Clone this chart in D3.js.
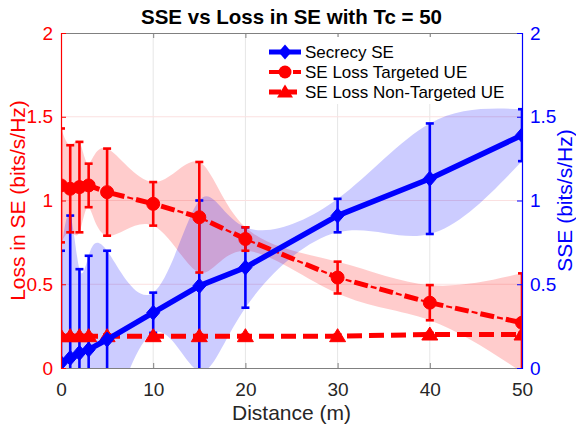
<!DOCTYPE html>
<html>
<head>
<meta charset="utf-8">
<script src="https://cdn.jsdelivr.net/npm/d3@7"></script>
<style>
  html, body { margin: 0; padding: 0; background: #fff; }
  svg { display: block; font-family: "Liberation Sans", Arial, Helvetica, sans-serif; }
</style>
</head>
<body>
<svg id="chart" width="576" height="424"></svg>
<script>
// Distances (m) at which both metrics were evaluated
const distances = [0, 1, 2, 3, 5, 10, 15, 20, 30, 40, 50];

// Secrecy SE (right axis) — mean and standard deviation
const sseMean = [0.03, 0.06, 0.09, 0.11, 0.17, 0.33, 0.49, 0.60, 0.91, 1.13, 1.39];
const sseErr  = [0.67, 0.85, 0.50, 0.56, 0.53, 0.12, 0.51, 0.24, 0.10, 0.33, 0.155];

// SE loss of the targeted UE (left axis)
const lossTargetedMean = [1.09, 1.07, 1.08, 1.09, 1.05, 0.98, 0.90, 0.77, 0.54, 0.39, 0.27];
const lossTargetedErr  = [0.34, 0.26, 0.27, 0.13, 0.26, 0.13, 0.33, 0.07, 0.095, 0.105, 0.295];

// SE loss of the non-targeted UE (left axis)
const lossNonTargetedMean = [0.19, 0.19, 0.19, 0.19, 0.19, 0.19, 0.19, 0.19, 0.19, 0.20, 0.20];
const lossNonTargetedErr  = [0.01, 0.01, 0.01, 0.01, 0.01, 0.01, 0.01, 0.01, 0.01, 0.01, 0.01];

const xTicks = [0, 10, 20, 30, 40, 50];
const yTicks = [0, 0.5, 1, 1.5, 2];

const titleText = "SSE vs Loss in SE with Tc = 50";
const xLabel = "Distance (m)";
const yLeftLabel = "Loss in SE (bits/s/Hz)";
const yRightLabel = "SSE (bits/s/Hz)";
const legendLabels = ["Secrecy SE", "SE Loss Targeted UE", "SE Loss Non-Targeted UE"];

const RED = "#ff0000", BLUE = "#0000ff", GRAY = "#262626";
const plot = { left: 61, right: 522, top: 33, bottom: 368 };

const svg = d3.select("#chart");
const x = d3.scaleLinear().domain([0, 50]).range([plot.left, plot.right]);
const yL = d3.scaleLinear().domain([0, 2]).range([plot.bottom, plot.top]);
const yR = d3.scaleLinear().domain([0, 2]).range([plot.bottom, plot.top]);

svg.append("defs").append("clipPath").attr("id", "plotClip")
  .append("rect")
  .attr("x", plot.left).attr("y", plot.top)
  .attr("width", plot.right - plot.left).attr("height", plot.bottom - plot.top);

// Grid
const grid = svg.append("g");
grid.selectAll("line.vg").data(xTicks.slice(1, -1)).join("line")
  .attr("x1", d => x(d)).attr("x2", d => x(d))
  .attr("y1", plot.top).attr("y2", plot.bottom)
  .attr("stroke", "#e6e6e6").attr("stroke-width", 1);
grid.selectAll("line.hg").data(yTicks.slice(1, -1)).join("line")
  .attr("x1", plot.left).attr("x2", plot.right)
  .attr("y1", d => yL(d)).attr("y2", d => yL(d))
  .attr("stroke", "#fbe0e0").attr("stroke-width", 1);

const data = svg.append("g").attr("clip-path", "url(#plotClip)");

function rows(mean, err) {
  return distances.map((d, i) => ({ d, m: mean[i], lo: mean[i] - err[i], hi: mean[i] + err[i] }));
}
const sseRows = rows(sseMean, sseErr);
const tgtRows = rows(lossTargetedMean, lossTargetedErr);
const nonRows = rows(lossNonTargetedMean, lossNonTargetedErr);

// Shaded deviation bands
function band(rowsArr, y, color) {
  data.append("path")
    .datum(rowsArr)
    .attr("d", d3.area().curve(d3.curveNatural)
      .x(r => x(r.d)).y0(r => y(r.lo)).y1(r => y(r.hi)))
    .attr("fill", color).attr("fill-opacity", 0.2).attr("stroke", "none");
}
band(tgtRows, yL, RED);
band(sseRows, yR, BLUE);

// Error bars
function errorBars(rowsArr, y, color) {
  const g = data.append("g").attr("stroke", color).attr("stroke-width", 2.6).attr("fill", "none");
  rowsArr.forEach(r => {
    g.append("line").attr("x1", x(r.d)).attr("x2", x(r.d)).attr("y1", y(r.lo)).attr("y2", y(r.hi));
    g.append("line").attr("x1", x(r.d) - 4).attr("x2", x(r.d) + 4).attr("y1", y(r.lo)).attr("y2", y(r.lo));
    g.append("line").attr("x1", x(r.d) - 4).attr("x2", x(r.d) + 4).attr("y1", y(r.hi)).attr("y2", y(r.hi));
  });
}
errorBars(sseRows, yR, BLUE);
errorBars(tgtRows, yL, RED);
errorBars(nonRows, yL, RED);

// Marker shapes
const diamondPath = "M0,-7.5L6.5,0L0,7.5L-6.5,0Z";
const trianglePath = "M0,-7.5L8,5.5L-8,5.5Z";

// Targeted loss: dash-dot line
const tgtLine = d3.line().x(r => x(r.d)).y(r => yL(r.m));
data.append("path").datum(tgtRows).attr("d", tgtLine)
  .attr("fill", "none").attr("stroke", RED).attr("stroke-width", 5)
  .attr("stroke-dasharray", "14,12");
data.append("path").datum(tgtRows).attr("d", tgtLine)
  .attr("fill", "none").attr("stroke", RED).attr("stroke-width", 2.2)
  .attr("stroke-dasharray", "0,17,6,3");
data.selectAll("circle.tgt").data(tgtRows).join("circle")
  .attr("cx", r => x(r.d)).attr("cy", r => yL(r.m)).attr("r", 6.5)
  .attr("fill", RED).attr("stroke", RED).attr("stroke-width", 1);

// Non-targeted loss: dashed line
data.append("path").datum(nonRows)
  .attr("d", d3.line().x(r => x(r.d)).y(r => yL(r.m)))
  .attr("fill", "none").attr("stroke", RED).attr("stroke-width", 5)
  .attr("stroke-dasharray", "15,7");
data.selectAll("path.tri").data(nonRows).join("path")
  .attr("d", trianglePath)
  .attr("transform", r => `translate(${x(r.d)},${yL(r.m)})`)
  .attr("fill", RED).attr("stroke", RED).attr("stroke-width", 1);

// Secrecy SE: solid line with diamonds
data.append("path").datum(sseRows)
  .attr("d", d3.line().x(r => x(r.d)).y(r => yR(r.m)))
  .attr("fill", "none").attr("stroke", BLUE).attr("stroke-width", 5.5)
  .attr("stroke-linejoin", "round");
data.selectAll("path.dia").data(sseRows).join("path")
  .attr("d", diamondPath)
  .attr("transform", r => `translate(${x(r.d)},${yR(r.m)})`)
  .attr("fill", BLUE).attr("stroke", BLUE).attr("stroke-width", 1);

// Axes
const axes = svg.append("g").attr("font-size", 19);
const xBottom = d3.axisBottom(x).tickValues(xTicks).tickSize(-5).tickPadding(15);
const xTop = d3.axisTop(x).tickValues(xTicks).tickSize(-5).tickFormat("");
const gxb = axes.append("g").attr("transform", `translate(0,${plot.bottom})`).call(xBottom);
const gxt = axes.append("g").attr("transform", `translate(0,${plot.top})`).call(xTop);
[gxb, gxt].forEach(g => {
  g.select(".domain").attr("stroke", "#808080").attr("stroke-width", 1);
  g.selectAll(".tick line").attr("stroke", "#808080");
  g.selectAll(".tick text").attr("fill", GRAY).attr("font-size", 19)
    .attr("font-family", "Liberation Sans, Arial, sans-serif");
});

const yLeftAxis = d3.axisLeft(yL).tickValues(yTicks).tickFormat(d3.format("~g")).tickSize(-5).tickPadding(8);
const yRightAxis = d3.axisRight(yR).tickValues(yTicks).tickFormat(d3.format("~g")).tickSize(-5).tickPadding(8);
const gyl = axes.append("g").attr("transform", `translate(${plot.left},0)`).call(yLeftAxis);
const gyr = axes.append("g").attr("transform", `translate(${plot.right},0)`).call(yRightAxis);
[[gyl, RED], [gyr, BLUE]].forEach(([g, c]) => {
  g.select(".domain").attr("stroke", c).attr("stroke-width", 1.2);
  g.selectAll(".tick line").attr("stroke", c);
  g.selectAll(".tick text").attr("fill", c).attr("font-size", 19)
    .attr("font-family", "Liberation Sans, Arial, sans-serif");
});

// Titles and labels
svg.append("text").attr("x", (plot.left + plot.right) / 2).attr("y", 24)
  .attr("text-anchor", "middle").attr("font-size", 20.5).attr("font-weight", "bold")
  .attr("fill", "#000").text(titleText);
svg.append("text").attr("x", (plot.left + plot.right) / 2).attr("y", 420)
  .attr("text-anchor", "middle").attr("font-size", 21).attr("fill", GRAY).text(xLabel);
svg.append("text")
  .attr("transform", `translate(25,${(plot.top + plot.bottom) / 2}) rotate(-90)`)
  .attr("text-anchor", "middle").attr("font-size", 21).attr("fill", RED).text(yLeftLabel);
svg.append("text")
  .attr("transform", `translate(572,${(plot.top + plot.bottom) / 2}) rotate(-90)`)
  .attr("text-anchor", "middle").attr("font-size", 21).attr("fill", BLUE).text(yRightLabel);

// Legend
const legend = svg.append("g");
legend.append("rect").attr("x", 262).attr("y", 37).attr("width", 255).attr("height", 67)
  .attr("fill", "#fff").attr("stroke", "none");
const legendRows = [
  { label: legendLabels[0], color: BLUE, dash: null, width: 5, marker: "diamond" },
  { label: legendLabels[1], color: RED, dash: "10,5,4,5", width: 4, marker: "circle" },
  { label: legendLabels[2], color: RED, dash: "12,4", width: 5, marker: "triangle" }
];
legendRows.forEach((r, i) => {
  const cy = 52 + i * 20;
  const ln = legend.append("line").attr("x1", 269).attr("x2", 301).attr("y1", cy).attr("y2", cy)
    .attr("stroke", r.color).attr("stroke-width", r.width);
  if (r.dash) ln.attr("stroke-dasharray", r.dash);
  if (r.marker === "circle") {
    legend.append("circle").attr("cx", 285).attr("cy", cy).attr("r", 6.5).attr("fill", r.color);
  } else {
    legend.append("path").attr("d", r.marker === "diamond" ? diamondPath : trianglePath)
      .attr("transform", `translate(285,${cy})`).attr("fill", r.color);
  }
  legend.append("text").attr("x", 305).attr("y", cy).attr("dy", "0.35em")
    .attr("font-size", 17).attr("fill", "#000").text(r.label);
});
</script>
</body>
</html>
